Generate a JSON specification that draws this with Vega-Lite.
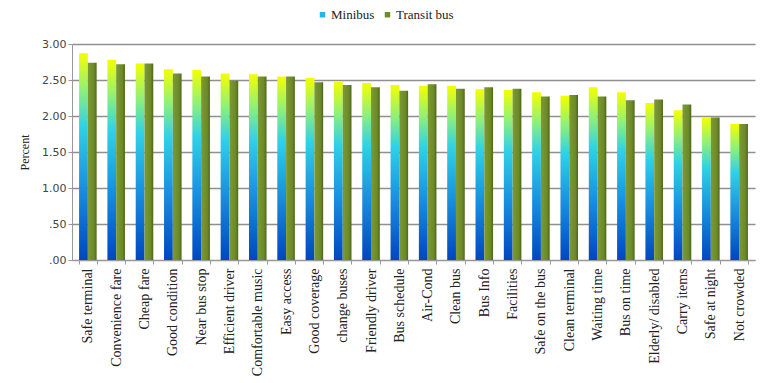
{
  "$schema": "https://vega.github.io/schema/vega-lite/v6.json",
  "autosize": {"type": "none"},
  "padding": {"left": 72, "top": 44, "right": 12, "bottom": 123},
  "width": 683,
  "height": 216,
  "background": "white",
  "config": {"view": {"stroke": null}},
  "data": {"values": [
    {"item": "Safe terminal", "series": "Minibus", "value": 2.87},
    {"item": "Safe terminal", "series": "Transit bus", "value": 2.74},
    {"item": "Convenience fare", "series": "Minibus", "value": 2.78},
    {"item": "Convenience fare", "series": "Transit bus", "value": 2.72},
    {"item": "Cheap fare", "series": "Minibus", "value": 2.73},
    {"item": "Cheap fare", "series": "Transit bus", "value": 2.73},
    {"item": "Good condition", "series": "Minibus", "value": 2.65},
    {"item": "Good condition", "series": "Transit bus", "value": 2.59},
    {"item": "Near bus stop", "series": "Minibus", "value": 2.64},
    {"item": "Near bus stop", "series": "Transit bus", "value": 2.55},
    {"item": "Efficient driver", "series": "Minibus", "value": 2.59},
    {"item": "Efficient driver", "series": "Transit bus", "value": 2.49},
    {"item": "Comfortable music", "series": "Minibus", "value": 2.58},
    {"item": "Comfortable music", "series": "Transit bus", "value": 2.55},
    {"item": "Easy access", "series": "Minibus", "value": 2.55},
    {"item": "Easy access", "series": "Transit bus", "value": 2.55},
    {"item": "Good coverage", "series": "Minibus", "value": 2.53},
    {"item": "Good coverage", "series": "Transit bus", "value": 2.47},
    {"item": "change buses", "series": "Minibus", "value": 2.48},
    {"item": "change buses", "series": "Transit bus", "value": 2.43},
    {"item": "Friendly driver", "series": "Minibus", "value": 2.46},
    {"item": "Friendly driver", "series": "Transit bus", "value": 2.40},
    {"item": "Bus schedule", "series": "Minibus", "value": 2.43},
    {"item": "Bus schedule", "series": "Transit bus", "value": 2.35},
    {"item": "Air-Cond", "series": "Minibus", "value": 2.42},
    {"item": "Air-Cond", "series": "Transit bus", "value": 2.44},
    {"item": "Clean bus", "series": "Minibus", "value": 2.42},
    {"item": "Clean bus", "series": "Transit bus", "value": 2.38},
    {"item": "Bus Info", "series": "Minibus", "value": 2.37},
    {"item": "Bus Info", "series": "Transit bus", "value": 2.40},
    {"item": "Facilities", "series": "Minibus", "value": 2.36},
    {"item": "Facilities", "series": "Transit bus", "value": 2.38},
    {"item": "Safe on the bus", "series": "Minibus", "value": 2.33},
    {"item": "Safe on the bus", "series": "Transit bus", "value": 2.27},
    {"item": "Clean terminal", "series": "Minibus", "value": 2.28},
    {"item": "Clean terminal", "series": "Transit bus", "value": 2.29},
    {"item": "Waiting time", "series": "Minibus", "value": 2.40},
    {"item": "Waiting time", "series": "Transit bus", "value": 2.27},
    {"item": "Bus on time", "series": "Minibus", "value": 2.33},
    {"item": "Bus on time", "series": "Transit bus", "value": 2.22},
    {"item": "Elderly/ disabled", "series": "Minibus", "value": 2.18},
    {"item": "Elderly/ disabled", "series": "Transit bus", "value": 2.23},
    {"item": "Carry items", "series": "Minibus", "value": 2.08},
    {"item": "Carry items", "series": "Transit bus", "value": 2.16},
    {"item": "Safe at night", "series": "Minibus", "value": 1.98},
    {"item": "Safe at night", "series": "Transit bus", "value": 1.98},
    {"item": "Not crowded", "series": "Minibus", "value": 1.89},
    {"item": "Not crowded", "series": "Transit bus", "value": 1.89}
  ]},
  "encoding": {
    "x": {
      "field": "item", "type": "nominal", "sort": null,
      "scale": {"paddingInner": 0.38, "paddingOuter": 0.25},
      "axis": {
        "title": null, "labelAngle": -90, "labelAlign": "right", "labelBaseline": "middle",
        "labelFont": "Liberation Serif", "labelFontSize": 14, "labelColor": "#222",
        "labelPadding": 4, "tickBand": "extent", "tickColor": "#999", "tickSize": 4,
        "domainColor": "#999", "grid": false
      }
    },
    "xOffset": {"field": "series", "type": "nominal", "scale": {"domain": ["Minibus", "Transit bus"], "paddingInner": 0}},
    "y": {
      "field": "value", "type": "quantitative",
      "scale": {"domain": [0, 3]},
      "axis": {
        "title": "Percent", "titleFont": "Liberation Serif", "titleFontSize": 12, "titleFontWeight": "normal",
        "titleColor": "#222", "titlePadding": 10,
        "values": [0, 0.5, 1, 1.5, 2, 2.5, 3],
        "labelExpr": "datum.value < 1 ? substring(format(datum.value, '.2f'), 1) : format(datum.value, '.2f')",
        "labelFont": "DejaVu Sans", "labelFontSize": 11, "labelColor": "#444",
        "domainColor": "#999", "tickColor": "#999", "tickSize": 4,
        "gridColor": "#8f8f8f", "gridWidth": 1.4
      }
    }
  },
  "layer": [
    {
      "transform": [{"filter": "datum.series === 'Minibus'"}],
      "mark": {
        "type": "bar",
        "fill": {
          "gradient": "linear", "x1": 0, "y1": 1, "x2": 0, "y2": 0,
          "stops": [
            {"offset": 0, "color": "#0046c0"},
            {"offset": 0.35, "color": "#1890e0"},
            {"offset": 0.65, "color": "#30d2e6"},
            {"offset": 0.82, "color": "#8ef07a"},
            {"offset": 1, "color": "#f4ff00"}
          ]
        }
      }
    },
    {
      "transform": [{"filter": "datum.series === 'Transit bus'"}],
      "mark": {
        "type": "bar",
        "fill": {
          "gradient": "linear", "x1": 0, "y1": 0, "x2": 1, "y2": 0,
          "stops": [
            {"offset": 0, "color": "#7c9a34"},
            {"offset": 0.7, "color": "#6b8a28"},
            {"offset": 1, "color": "#4e641c"}
          ]
        }
      }
    },
    {
      "mark": {"type": "square", "opacity": 0},
      "encoding": {
        "color": {
          "field": "series", "type": "nominal",
          "scale": {"domain": ["Minibus", "Transit bus"], "range": ["#22b6e6", "#6e8c2a"]},
          "legend": {
            "title": null, "orient": "none", "direction": "horizontal",
            "legendX": 244, "legendY": -36,
            "symbolType": "square", "symbolSize": 30, "symbolOpacity": 1,
            "labelFont": "Liberation Serif", "labelFontSize": 13, "labelColor": "#222",
            "symbolOffset": 0, "columnPadding": 6, "labelOffset": 2
          }
        }
      }
    }
  ]
}
